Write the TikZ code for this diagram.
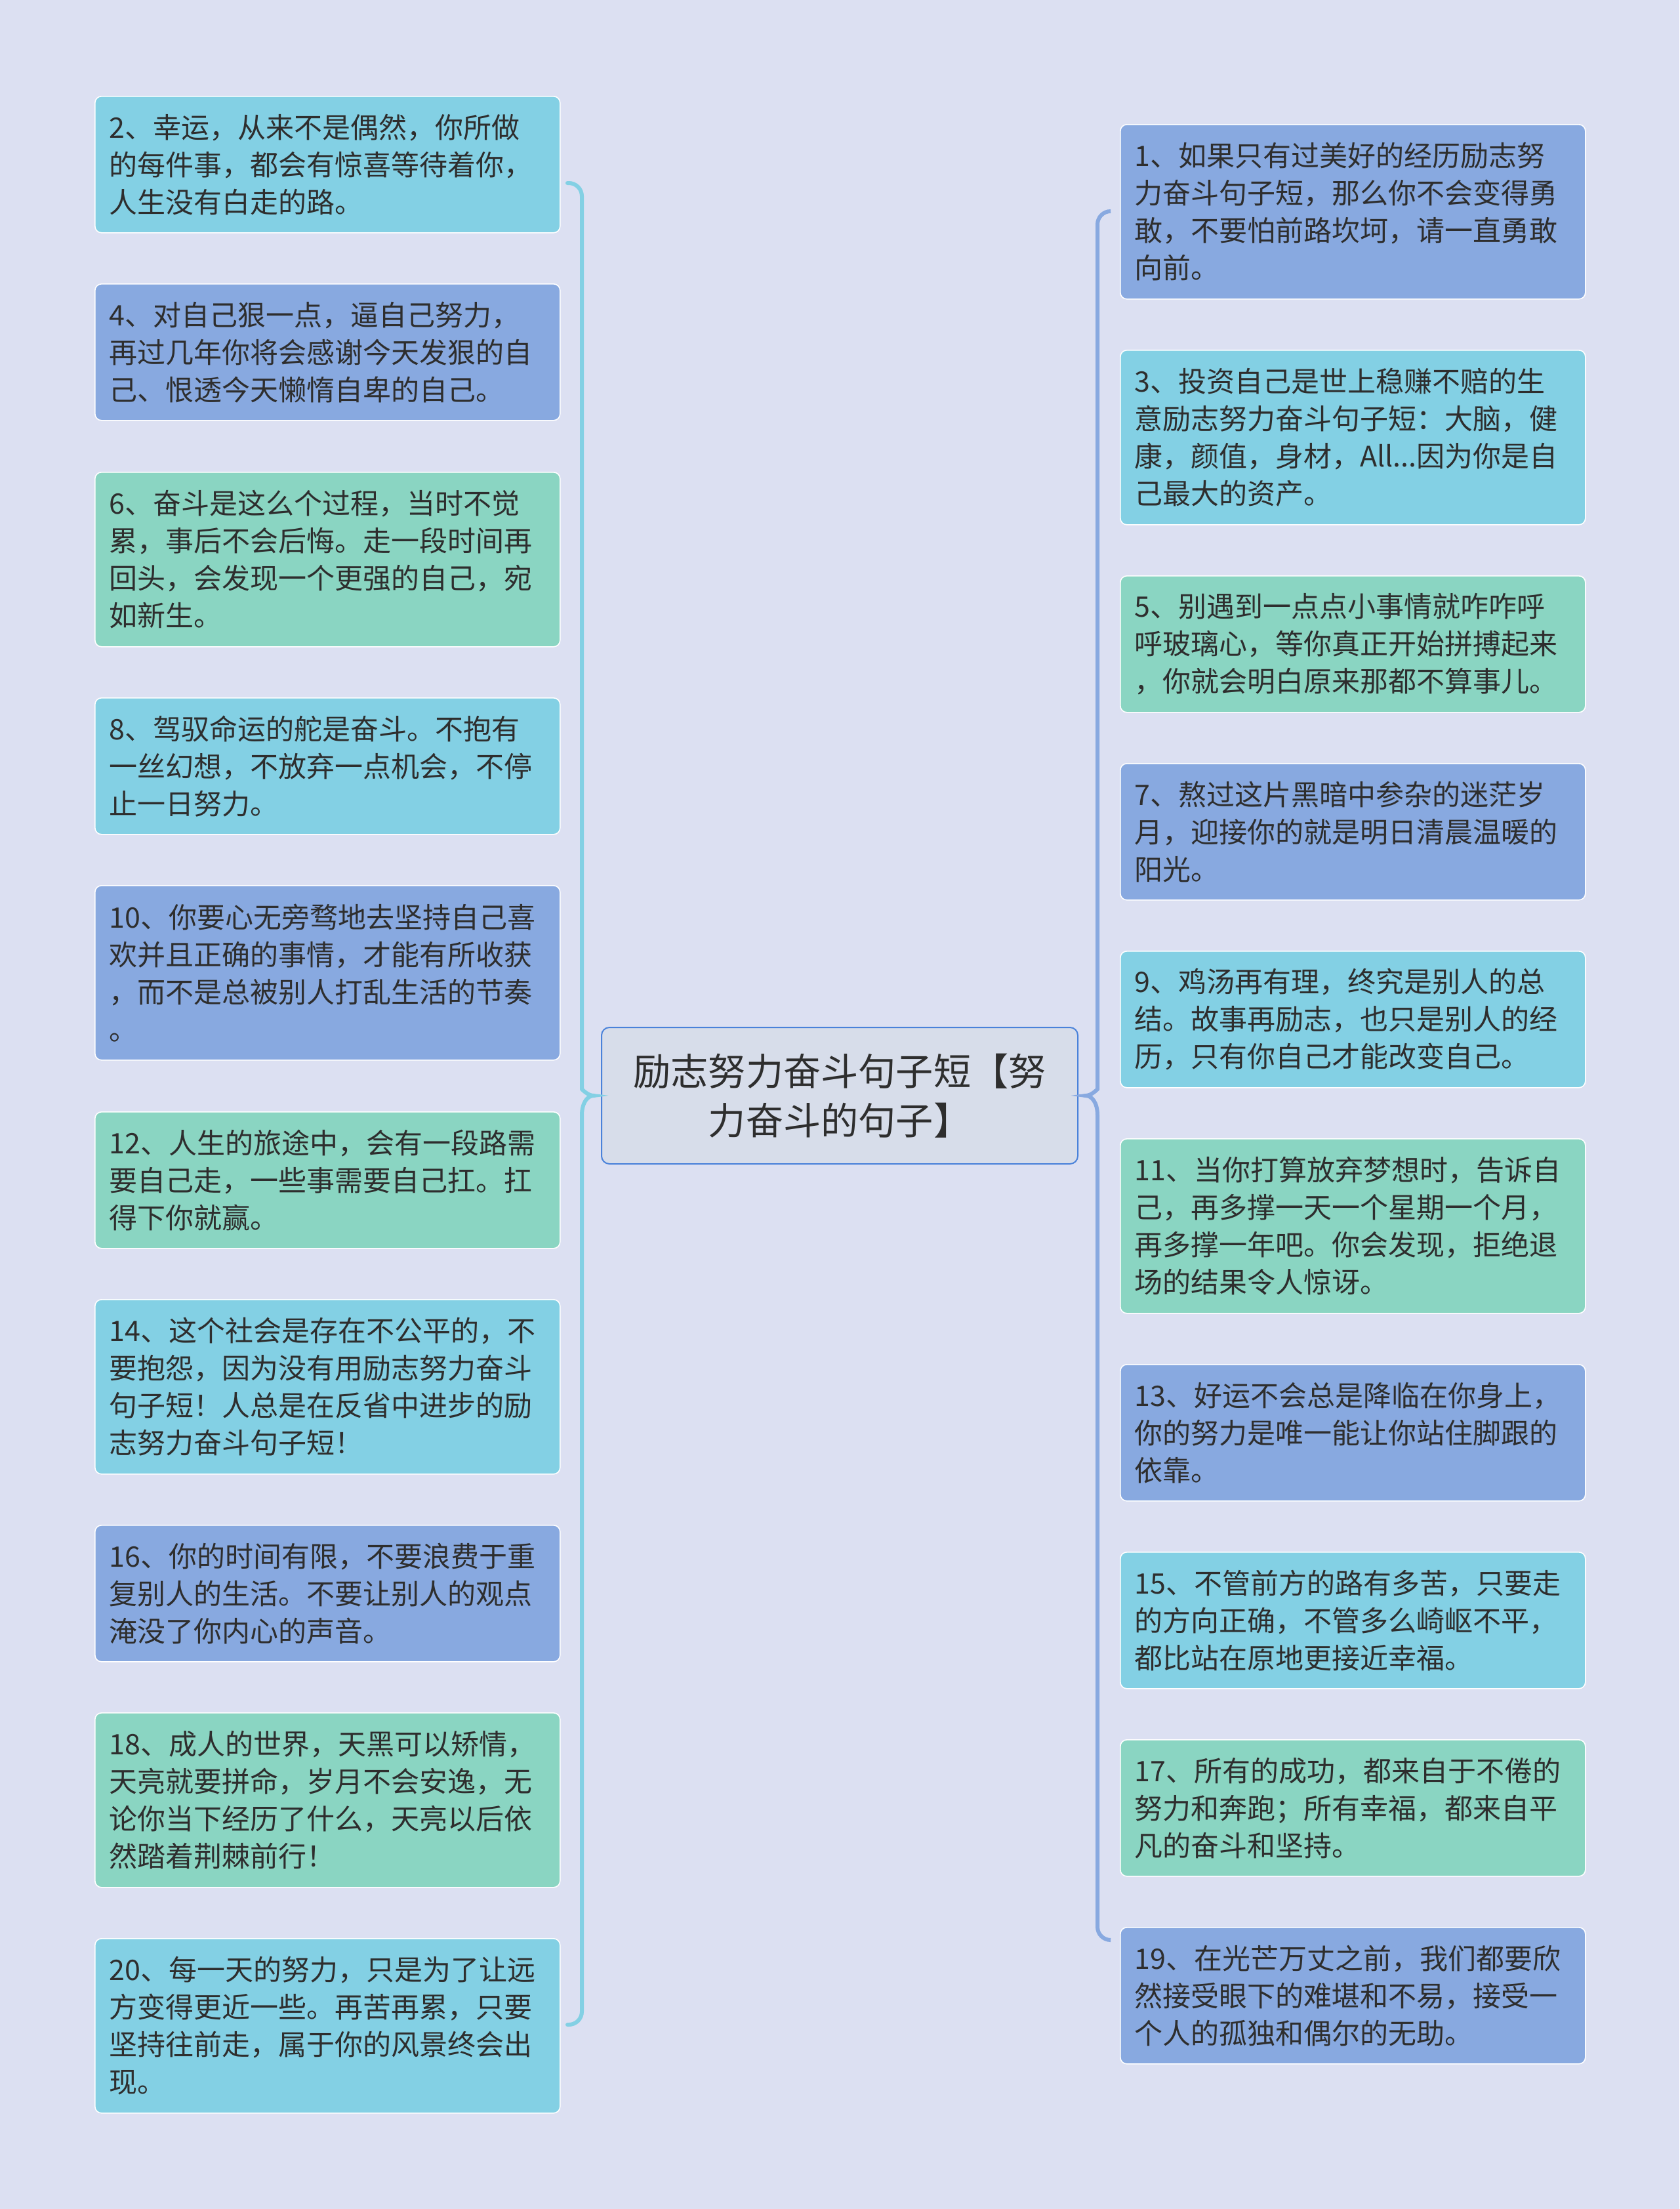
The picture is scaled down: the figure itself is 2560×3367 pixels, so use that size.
\documentclass[tikz,border=0pt]{standalone}
\usepackage{fontspec}
\setmainfont{Noto Sans CJK SC}
\definecolor{bgpaper}{HTML}{DCE0F2}
\definecolor{cardblue}{HTML}{88A9E0}
\definecolor{cardcyan}{HTML}{83D0E4}
\definecolor{cardgreen}{HTML}{8AD5C2}
\definecolor{rootfill}{HTML}{D7DDEA}
\definecolor{rootline}{HTML}{4A82DA}
\definecolor{inkgray}{HTML}{2E2E2E}
\tikzset{
  card/.style={draw=white, line width=0.8pt, rounded corners=5pt, anchor=north west,
    text width=333pt, inner xsep=10.75pt, inner ysep=0pt, align=left, text=inkgray,
    font=\fontsize{21.5pt}{28.5pt}\selectfont},
  card3/.style={card, minimum height=104pt},
  card4/.style={card, minimum height=133pt},
  brace/.style={draw=#1, line width=3pt, line cap=round}
}
\begin{document}
\begin{tikzpicture}[x=0.5pt, y=-0.5pt]
  \fill[bgpaper] (0,0) rectangle (2560,3367);
  \useasboundingbox (0,0) rectangle (2560,3367);
  % root
  \node[draw=rootline, fill=rootfill, line width=1pt, rounded corners=6pt,
    minimum width=363pt, minimum height=104pt, align=center, text=inkgray,
    font=\fontsize{28.6pt}{37.5pt}\selectfont] (root) at (1280,1670)
    {励志努力奋斗句子短【努\\力奋斗的句子】};
  % left column
  \node[card3, fill=cardcyan] (q2) at (144,146)
    {2、幸运，从来不是偶然，你所做\\的每件事，都会有惊喜等待着你，\\人生没有白走的路。};
  \node[card3, fill=cardblue] (q4) at (144,432)
    {4、对自己狠一点，逼自己努力，\\再过几年你将会感谢今天发狠的自\\己、恨透今天懒惰自卑的自己。};
  \node[card4, fill=cardgreen] (q6) at (144,719)
    {6、奋斗是这么个过程，当时不觉\\累，事后不会后悔。走一段时间再\\回头，会发现一个更强的自己，宛\\如新生。};
  \node[card3, fill=cardcyan] (q8) at (144,1063)
    {8、驾驭命运的舵是奋斗。不抱有\\一丝幻想，不放弃一点机会，不停\\止一日努力。};
  \node[card4, fill=cardblue] (q10) at (144,1349)
    {10、你要心无旁骛地去坚持自己喜\\欢并且正确的事情，才能有所收获\\，而不是总被别人打乱生活的节奏\\。};
  \node[card3, fill=cardgreen] (q12) at (144,1694)
    {12、人生的旅途中，会有一段路需\\要自己走，一些事需要自己扛。扛\\得下你就赢。};
  \node[card4, fill=cardcyan] (q14) at (144,1980)
    {14、这个社会是存在不公平的，不\\要抱怨，因为没有用励志努力奋斗\\句子短！人总是在反省中进步的励\\志努力奋斗句子短！};
  \node[card3, fill=cardblue] (q16) at (144,2324)
    {16、你的时间有限，不要浪费于重\\复别人的生活。不要让别人的观点\\淹没了你内心的声音。};
  \node[card4, fill=cardgreen] (q18) at (144,2610)
    {18、成人的世界，天黑可以矫情，\\天亮就要拼命，岁月不会安逸，无\\论你当下经历了什么，天亮以后依\\然踏着荆棘前行！};
  \node[card4, fill=cardcyan] (q20) at (144,2954)
    {20、每一天的努力，只是为了让远\\方变得更近一些。再苦再累，只要\\坚持往前走，属于你的风景终会出\\现。};
  % right column
  \node[card4, fill=cardblue] (q1) at (1707,189)
    {1、如果只有过美好的经历励志努\\力奋斗句子短，那么你不会变得勇\\敢，不要怕前路坎坷，请一直勇敢\\向前。};
  \node[card4, fill=cardcyan] (q3) at (1707,533)
    {3、投资自己是世上稳赚不赔的生\\意励志努力奋斗句子短：大脑，健\\康，颜值，身材，All...因为你是自\\己最大的资产。};
  \node[card3, fill=cardgreen] (q5) at (1707,877)
    {5、别遇到一点点小事情就咋咋呼\\呼玻璃心，等你真正开始拼搏起来\\，你就会明白原来那都不算事儿。};
  \node[card3, fill=cardblue] (q7) at (1707,1163)
    {7、熬过这片黑暗中参杂的迷茫岁\\月，迎接你的就是明日清晨温暖的\\阳光。};
  \node[card3, fill=cardcyan] (q9) at (1707,1449)
    {9、鸡汤再有理，终究是别人的总\\结。故事再励志，也只是别人的经\\历，只有你自己才能改变自己。};
  \node[card4, fill=cardgreen] (q11) at (1707,1735)
    {11、当你打算放弃梦想时，告诉自\\己，再多撑一天一个星期一个月，\\再多撑一年吧。你会发现，拒绝退\\场的结果令人惊讶。};
  \node[card3, fill=cardblue] (q13) at (1707,2079)
    {13、好运不会总是降临在你身上，\\你的努力是唯一能让你站住脚跟的\\依靠。};
  \node[card3, fill=cardcyan] (q15) at (1707,2365)
    {15、不管前方的路有多苦，只要走\\的方向正确，不管多么崎岖不平，\\都比站在原地更接近幸福。};
  \node[card3, fill=cardgreen] (q17) at (1707,2651)
    {17、所有的成功，都来自于不倦的\\努力和奔跑；所有幸福，都来自平\\凡的奋斗和坚持。};
  \node[card3, fill=cardblue] (q19) at (1707,2937)
    {19、在光芒万丈之前，我们都要欣\\然接受眼下的难堪和不易，接受一\\个人的孤独和偶尔的无助。};
  % braces
  \coordinate (ltop) at (865,279);
  \coordinate (lbot) at (865,3086);
  \coordinate (ltip) at ([xshift=-5.5pt]root.west);
  \coordinate (rtop) at (1692,322);
  \coordinate (rbot) at (1692,2957);
  \coordinate (rtip) at ([xshift=5.5pt]root.east);
  \draw[brace=cardcyan] (ltop) [rounded corners=10pt] -| (887,1640) [sharp corners]
    .. controls (887,1660) and (896,1670) .. (ltip)
    .. controls (896,1670) and (887,1680) .. (887,1700)
    [rounded corners=10pt] |- (lbot);
  \draw[brace=cardblue] (rtop) [rounded corners=10pt] -| (1673,1640) [sharp corners]
    .. controls (1673,1660) and (1664,1670) .. (rtip)
    .. controls (1664,1670) and (1673,1680) .. (1673,1700)
    [rounded corners=10pt] |- (rbot);
\end{tikzpicture}
\end{document}
